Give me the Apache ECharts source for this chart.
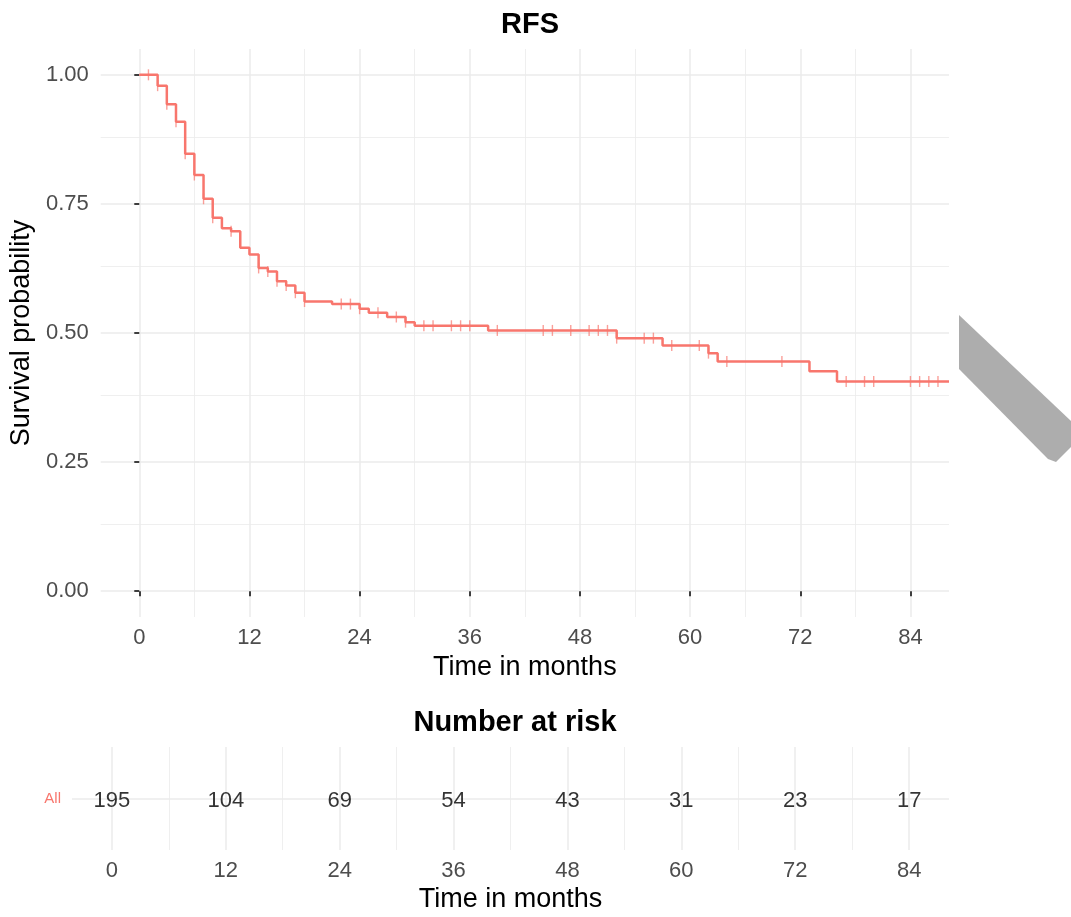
<!DOCTYPE html>
<html>
<head>
<meta charset="utf-8">
<title>RFS</title>
<script src="https://cdn.jsdelivr.net/npm/echarts@6/dist/echarts.min.js"></script>
<style>
  html, body { margin: 0; padding: 0; background: #fff; }
  #chart4rfs { width: 1071px; height: 917px; }
</style>
</head>
<body>
<div id="chart4rfs"></div>
<script>
// 事件时间(月) 及 生存概率
var eventTimes = [0, 2, 3, 4, 5, 6, 7, 8, 9, 10, 11, 12, 13, 14, 15, 16, 17, 18, 21, 24, 25, 27, 29, 30, 38, 52, 57, 62, 63, 73, 76];
var survProb   = [1.000, 0.979, 0.943, 0.909, 0.847, 0.806, 0.760, 0.723, 0.703, 0.697, 0.665, 0.652, 0.626, 0.619, 0.600, 0.592, 0.578, 0.561,
                  0.556, 0.547, 0.539, 0.531, 0.521, 0.514, 0.505, 0.490, 0.476, 0.461, 0.445, 0.426, 0.406];
// 删失时间
var censorTimes = [1, 2, 3, 4, 5, 6, 7, 8, 10, 13, 14, 15, 16, 17, 18, 22, 23, 24, 26, 28, 29, 31, 32, 34, 35, 36,
                   39, 44, 45, 47, 49, 50, 51, 52, 55, 56, 58, 61, 62, 64, 70, 77, 79, 80, 84, 85, 86, 87];
// 风险人数表
var riskTimes  = [0, 12, 24, 36, 48, 60, 72, 84];
var riskCounts = [195, 104, 69, 54, 43, 31, 23, 17];
var timeTicks  = [0, 12, 24, 36, 48, 60, 72, 84];
var probTicks  = [0, 0.25, 0.5, 0.75, 1];

var xMin = -4.2, xMax = 88.2;
var red = '#F8766D';
var font = 'Liberation Sans, Arial, sans-serif';

function survAt(t){
	var s = survProb[0];
	for (var i = 0; i < eventTimes.length; i++) {
		if (eventTimes[i] <= t) s = survProb[i];
	}
	return s;
}

function midTicks(arr){
	var out = [];
	for (var i = 0; i < arr.length - 1; i++) out.push((arr[i] + arr[i + 1]) / 2);
	return out;
}

function loadChart4rfs(){
	var curve = eventTimes.map(function(t, i){ return [t, survProb[i]]; });
	curve.push([xMax, survProb[survProb.length - 1]]);
	var censors = censorTimes.map(function(t){ return [t, survAt(t)]; });
	var risk = riskTimes.map(function(t, i){ return [t, 'All', riskCounts[i]]; });

	var major = {color: '#EBEBEB', width: 1.5, type: 'solid'};
	var minor = {color: '#EBEBEB', width: 0.8, type: 'solid'};
	function vLines(vals, style){ return vals.map(function(v){ return {xAxis: v, lineStyle: style}; }); }
	function hLines(vals, style){ return vals.map(function(v){ return {yAxis: v, lineStyle: style}; }); }

	var tickLabel = {color: '#4D4D4D', fontSize: 22, fontFamily: font};
	var nameStyle = {color: '#000', fontSize: 27, fontFamily: font};
	var tickLine = {color: '#111', width: 1.6};

	var quota = {
		backgroundColor: '#fff',
		animation: false,
		title: [
			{text: 'RFS', left: 525, top: 5, textAlign: 'center',
			 textStyle: {fontSize: 29, fontWeight: 'bold', color: '#000', fontFamily: font}},
			{text: 'Number at risk', left: 510, top: 703, textAlign: 'center',
			 textStyle: {fontSize: 29, fontWeight: 'bold', color: '#000', fontFamily: font}}
		],
		grid: [
			{left: 100, right: 122, top: 49, height: 568},
			{left: 72, right: 122, top: 747, height: 103}
		],
		xAxis: [
			{
				type: 'value', gridIndex: 0, min: xMin, max: xMax,
				name: 'Time in months', nameLocation: 'middle', nameGap: 36, nameTextStyle: nameStyle,
				axisLine: {show: false},
				axisTick: {show: true, length: 5, customValues: timeTicks, lineStyle: tickLine},
				axisLabel: Object.assign({margin: 10, customValues: timeTicks}, tickLabel),
				splitLine: {show: false}
			},
			{
				type: 'value', gridIndex: 1, min: xMin, max: xMax,
				name: 'Time in months', nameLocation: 'middle', nameGap: 36, nameTextStyle: nameStyle,
				axisLine: {show: false},
				axisTick: {show: false, customValues: timeTicks},
				axisLabel: Object.assign({margin: 10, customValues: timeTicks}, tickLabel),
				splitLine: {show: false}
			}
		],
		yAxis: [
			{
				type: 'value', gridIndex: 0, min: -0.05, max: 1.05,
				name: 'Survival probability', nameLocation: 'middle', nameGap: 63, nameTextStyle: nameStyle,
				axisLine: {show: false},
				axisTick: {show: true, length: 5, customValues: probTicks, lineStyle: tickLine},
				axisLabel: Object.assign({margin: 12, customValues: probTicks,
					formatter: function(v){ return v.toFixed(2); }}, tickLabel),
				splitLine: {show: false}
			},
			{
				type: 'category', gridIndex: 1, data: ['All'],
				axisLine: {show: false},
				axisTick: {show: false},
				axisLabel: {margin: 11, color: red, fontSize: 15, fontFamily: font},
				splitLine: {show: false}
			}
		],
		graphic: [
			{
				type: 'polygon', silent: true,
				shape: {points: [[959, 315], [959, 369], [1048, 459], [1056, 462], [1071, 447], [1071, 421]]},
				style: {fill: '#ADADAD'}
			}
		],
		series: [
			{
				//网格线
				name: 'grid0', type: 'line', xAxisIndex: 0, yAxisIndex: 0, data: [], z: 0, silent: true,
				markLine: {
					silent: true, symbol: 'none', label: {show: false}, animation: false, z: 0,
					data: vLines(midTicks(timeTicks), minor).concat(hLines(midTicks(probTicks), minor))
						.concat(vLines(timeTicks, major)).concat(hLines(probTicks, major))
				}
			},
			{
				name: 'grid1', type: 'line', xAxisIndex: 1, yAxisIndex: 1, data: [], z: 0, silent: true,
				markLine: {
					silent: true, symbol: 'none', label: {show: false}, animation: false, z: 0,
					data: vLines(midTicks(timeTicks), minor).concat(vLines(timeTicks, major))
						.concat([{yAxis: 'All', lineStyle: major}])
				}
			},
			{
				name: 'All', type: 'line', step: 'end', xAxisIndex: 0, yAxisIndex: 0,
				data: curve, showSymbol: false, z: 6,
				lineStyle: {color: red, width: 2.5}
			},
			{
				name: 'censor', type: 'scatter', xAxisIndex: 0, yAxisIndex: 0,
				data: censors, symbol: 'rect', symbolSize: [1.4, 11], z: 7,
				itemStyle: {color: red, opacity: 0.7}
			},
			{
				name: 'risk', type: 'scatter', xAxisIndex: 1, yAxisIndex: 1,
				data: risk, symbolSize: 0, z: 7,
				label: {
					show: true, position: 'inside', color: '#000', fontSize: 22, fontFamily: font,
					offset: [0, 2],
					formatter: function(p){ return p.value[2]; }
				}
			}
		]
	};

	var quotaChart = echarts.init(document.getElementById('chart4rfs'));
	quotaChart.setOption(quota);
	window.onresize = quotaChart.resize;
}

loadChart4rfs();
</script>
</body>
</html>
